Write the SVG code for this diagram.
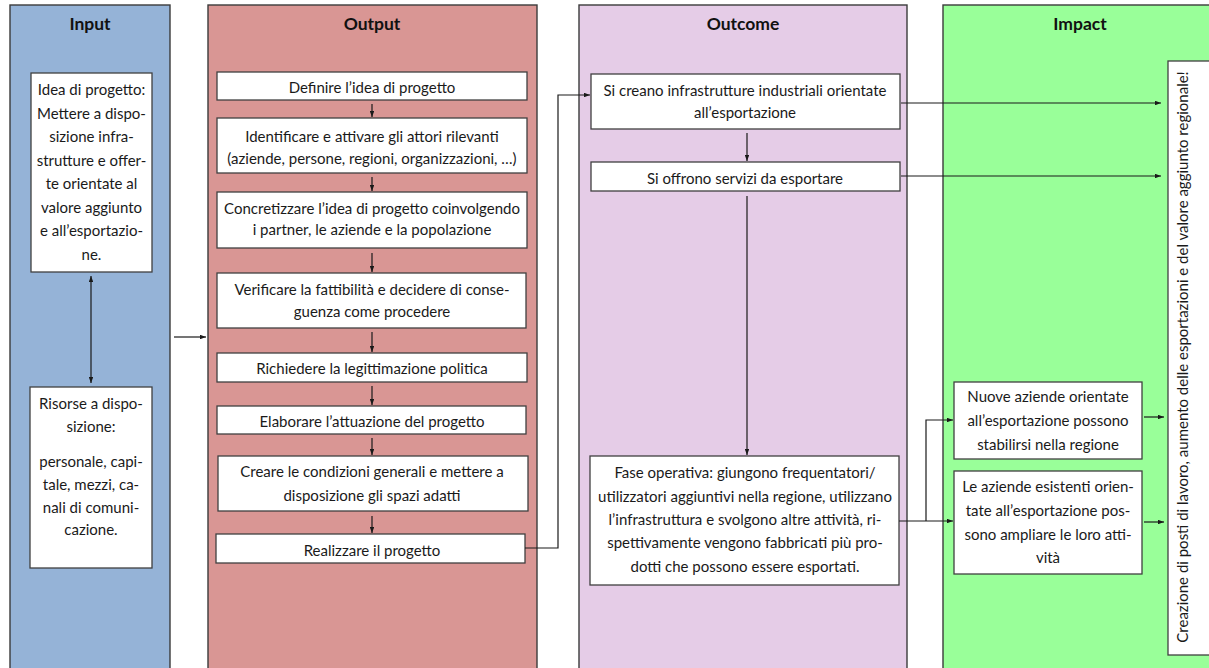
<svg xmlns="http://www.w3.org/2000/svg" width="1209" height="668" viewBox="0 0 1209 668">
  <style>
    .col { stroke: #3b3b3b; stroke-width: 1.4; }
    .box { fill: #ffffff; stroke: #404040; stroke-width: 1.3; }
    .title { font-family: Lato, "Liberation Sans", sans-serif; font-weight: bold; font-size: 17.5px; fill: #111; text-anchor: middle; }
    .t { font-family: Lato, "Liberation Sans", sans-serif; font-size: 15px; fill: #1a1a1a; text-anchor: middle; }
    .link { fill: none; stroke: #1a1a1a; stroke-width: 1.2; }
  </style>
  <defs>
    <marker id="ah" viewBox="0 0 8 6" refX="8" refY="3" markerWidth="6" markerHeight="4.5" markerUnits="userSpaceOnUse" orient="auto-start-reverse">
      <path d="M0,0 L8,3 L0,6 z" fill="#1a1a1a"/>
    </marker>
  </defs>

  <rect width="1209" height="668" fill="#ffffff"/>

  <!-- Column: Input -->
  <g id="col-input">
    <rect class="col" x="10" y="5" width="160" height="680" fill="#95b3d7"/>
    <text class="title" x="90" y="30">Input</text>
  </g>
  <!-- Column: Output -->
  <g id="col-output">
    <rect class="col" x="208" y="5" width="329" height="680" fill="#d99694"/>
    <text class="title" x="372" y="30">Output</text>
  </g>
  <!-- Column: Outcome -->
  <g id="col-outcome">
    <rect class="col" x="579" y="5" width="328" height="680" fill="#e5cce7"/>
    <text class="title" x="743" y="30">Outcome</text>
  </g>
  <!-- Column: Impact -->
  <g id="col-impact">
    <rect class="col" x="943" y="5" width="300" height="680" fill="#99ff99"/>
    <text class="title" x="1080" y="30">Impact</text>
  </g>

  <!-- Input nodes -->
  <g id="in-idea">
    <rect class="box" x="31" y="73" width="121" height="199"/>
    <text class="t" x="91.5" y="95">Idea di progetto:</text>
    <text class="t" x="91.5" y="118.5">Mettere a dispo-</text>
    <text class="t" x="91.5" y="142">sizione infra-</text>
    <text class="t" x="91.5" y="165.5">strutture e offer-</text>
    <text class="t" x="91.5" y="189">te orientate al</text>
    <text class="t" x="91.5" y="212.5">valore aggiunto</text>
    <text class="t" x="91.5" y="236">e all’esportazio-</text>
    <text class="t" x="91.5" y="260">ne.</text>
  </g>
  <g id="in-risorse">
    <rect class="box" x="30" y="387" width="122" height="181"/>
    <text class="t" x="91" y="409">Risorse a dispo-</text>
    <text class="t" x="91" y="432">sizione:</text>
    <text class="t" x="91" y="467">personale, capi-</text>
    <text class="t" x="91" y="490">tale, mezzi, ca-</text>
    <text class="t" x="91" y="513">nali di comuni-</text>
    <text class="t" x="91" y="535">cazione.</text>
  </g>

  <!-- Output nodes -->
  <g id="out-definire">
    <rect class="box" x="217" y="72" width="310" height="28"/>
    <text class="t" x="372" y="93">Definire l’idea di progetto</text>
  </g>
  <g id="out-identificare">
    <rect class="box" x="217" y="118" width="310" height="55"/>
    <text class="t" x="372" y="142">Identificare e attivare gli attori rilevanti</text>
    <text class="t" x="372" y="164">(aziende, persone, regioni, organizzazioni, …)</text>
  </g>
  <g id="out-concretizzare">
    <rect class="box" x="217" y="192" width="310" height="56"/>
    <text class="t" x="372" y="214">Concretizzare l’idea di progetto coinvolgendo</text>
    <text class="t" x="372" y="235">i partner, le aziende e la popolazione</text>
  </g>
  <g id="out-verificare">
    <rect class="box" x="217" y="273" width="309" height="55"/>
    <text class="t" x="372" y="295">Verificare la fattibilità e decidere di conse-</text>
    <text class="t" x="372" y="317">guenza come procedere</text>
  </g>
  <g id="out-richiedere">
    <rect class="box" x="217" y="353" width="310" height="29"/>
    <text class="t" x="372" y="374">Richiedere la legittimazione politica</text>
  </g>
  <g id="out-elaborare">
    <rect class="box" x="217" y="406" width="309" height="28"/>
    <text class="t" x="372" y="427">Elaborare l’attuazione del progetto</text>
  </g>
  <g id="out-creare">
    <rect class="box" x="218" y="456" width="310" height="55"/>
    <text class="t" x="372" y="477">Creare le condizioni generali e mettere a</text>
    <text class="t" x="372" y="501">disposizione gli spazi adatti</text>
  </g>
  <g id="out-realizzare">
    <rect class="box" x="216" y="534" width="309" height="29"/>
    <text class="t" x="372" y="556">Realizzare il progetto</text>
  </g>

  <!-- Outcome nodes -->
  <g id="oc-infrastrutture">
    <rect class="box" x="591" y="74" width="309" height="55"/>
    <text class="t" x="745" y="96">Si creano infrastrutture industriali orientate</text>
    <text class="t" x="745" y="118">all’esportazione</text>
  </g>
  <g id="oc-servizi">
    <rect class="box" x="591" y="162" width="309" height="29"/>
    <text class="t" x="745" y="184">Si offrono servizi da esportare</text>
  </g>
  <g id="oc-fase">
    <rect class="box" x="590" y="456" width="309" height="129"/>
    <text class="t" x="745" y="478">Fase operativa: giungono frequentatori/</text>
    <text class="t" x="745" y="502">utilizzatori aggiuntivi nella regione, utilizzano</text>
    <text class="t" x="745" y="525">l’infrastruttura e svolgono altre attività, ri-</text>
    <text class="t" x="745" y="548">spettivamente vengono fabbricati più pro-</text>
    <text class="t" x="745" y="572">dotti che possono essere esportati.</text>
  </g>

  <!-- Impact nodes -->
  <g id="im-nuove">
    <rect class="box" x="954" y="382" width="188" height="77"/>
    <text class="t" x="1048" y="402">Nuove aziende orientate</text>
    <text class="t" x="1048" y="426">all’esportazione possono</text>
    <text class="t" x="1048" y="450">stabilirsi nella regione</text>
  </g>
  <g id="im-esistenti">
    <rect class="box" x="954" y="471" width="188" height="103"/>
    <text class="t" x="1048" y="492">Le aziende esistenti orien-</text>
    <text class="t" x="1048" y="516">tate all’esportazione pos-</text>
    <text class="t" x="1048" y="540">sono ampliare le loro atti-</text>
    <text class="t" x="1048" y="563">vità</text>
  </g>
  <g id="im-creazione">
    <rect class="box" x="1168" y="61" width="60" height="594"/>
    <text class="t" transform="translate(1188,357) rotate(-90)" x="0" y="0">Creazione di posti di lavoro, aumento delle esportazioni e del valore aggiunto regionale!</text>
  </g>

  <!-- Connectors -->
  <g id="connectors">
    <path class="link" d="M91,276 V383" marker-start="url(#ah)" marker-end="url(#ah)"/>
    <path class="link" d="M174,337 H206" marker-end="url(#ah)"/>

    <path class="link" d="M372,104 V117" marker-end="url(#ah)"/>
    <path class="link" d="M372,177 V191" marker-end="url(#ah)"/>
    <path class="link" d="M372,253 V272" marker-end="url(#ah)"/>
    <path class="link" d="M372,332 V352" marker-end="url(#ah)"/>
    <path class="link" d="M372,386 V405" marker-end="url(#ah)"/>
    <path class="link" d="M372,438 V455" marker-end="url(#ah)"/>
    <path class="link" d="M372,516 V533" marker-end="url(#ah)"/>

    <path class="link" d="M525,548 H558 V95 H590" marker-end="url(#ah)"/>

    <path class="link" d="M747,133 V161" marker-end="url(#ah)"/>
    <path class="link" d="M747,196 V455" marker-end="url(#ah)"/>
    <path class="link" d="M901,103 H1161" marker-end="url(#ah)"/>
    <path class="link" d="M901,176 H1161" marker-end="url(#ah)"/>

    <path class="link" d="M899,521 H953" marker-end="url(#ah)"/>
    <path class="link" d="M926,521 V420 H953" marker-end="url(#ah)"/>
    <path class="link" d="M1144,417 H1164" marker-end="url(#ah)"/>
    <path class="link" d="M1144,522 H1164" marker-end="url(#ah)"/>
  </g>
</svg>
